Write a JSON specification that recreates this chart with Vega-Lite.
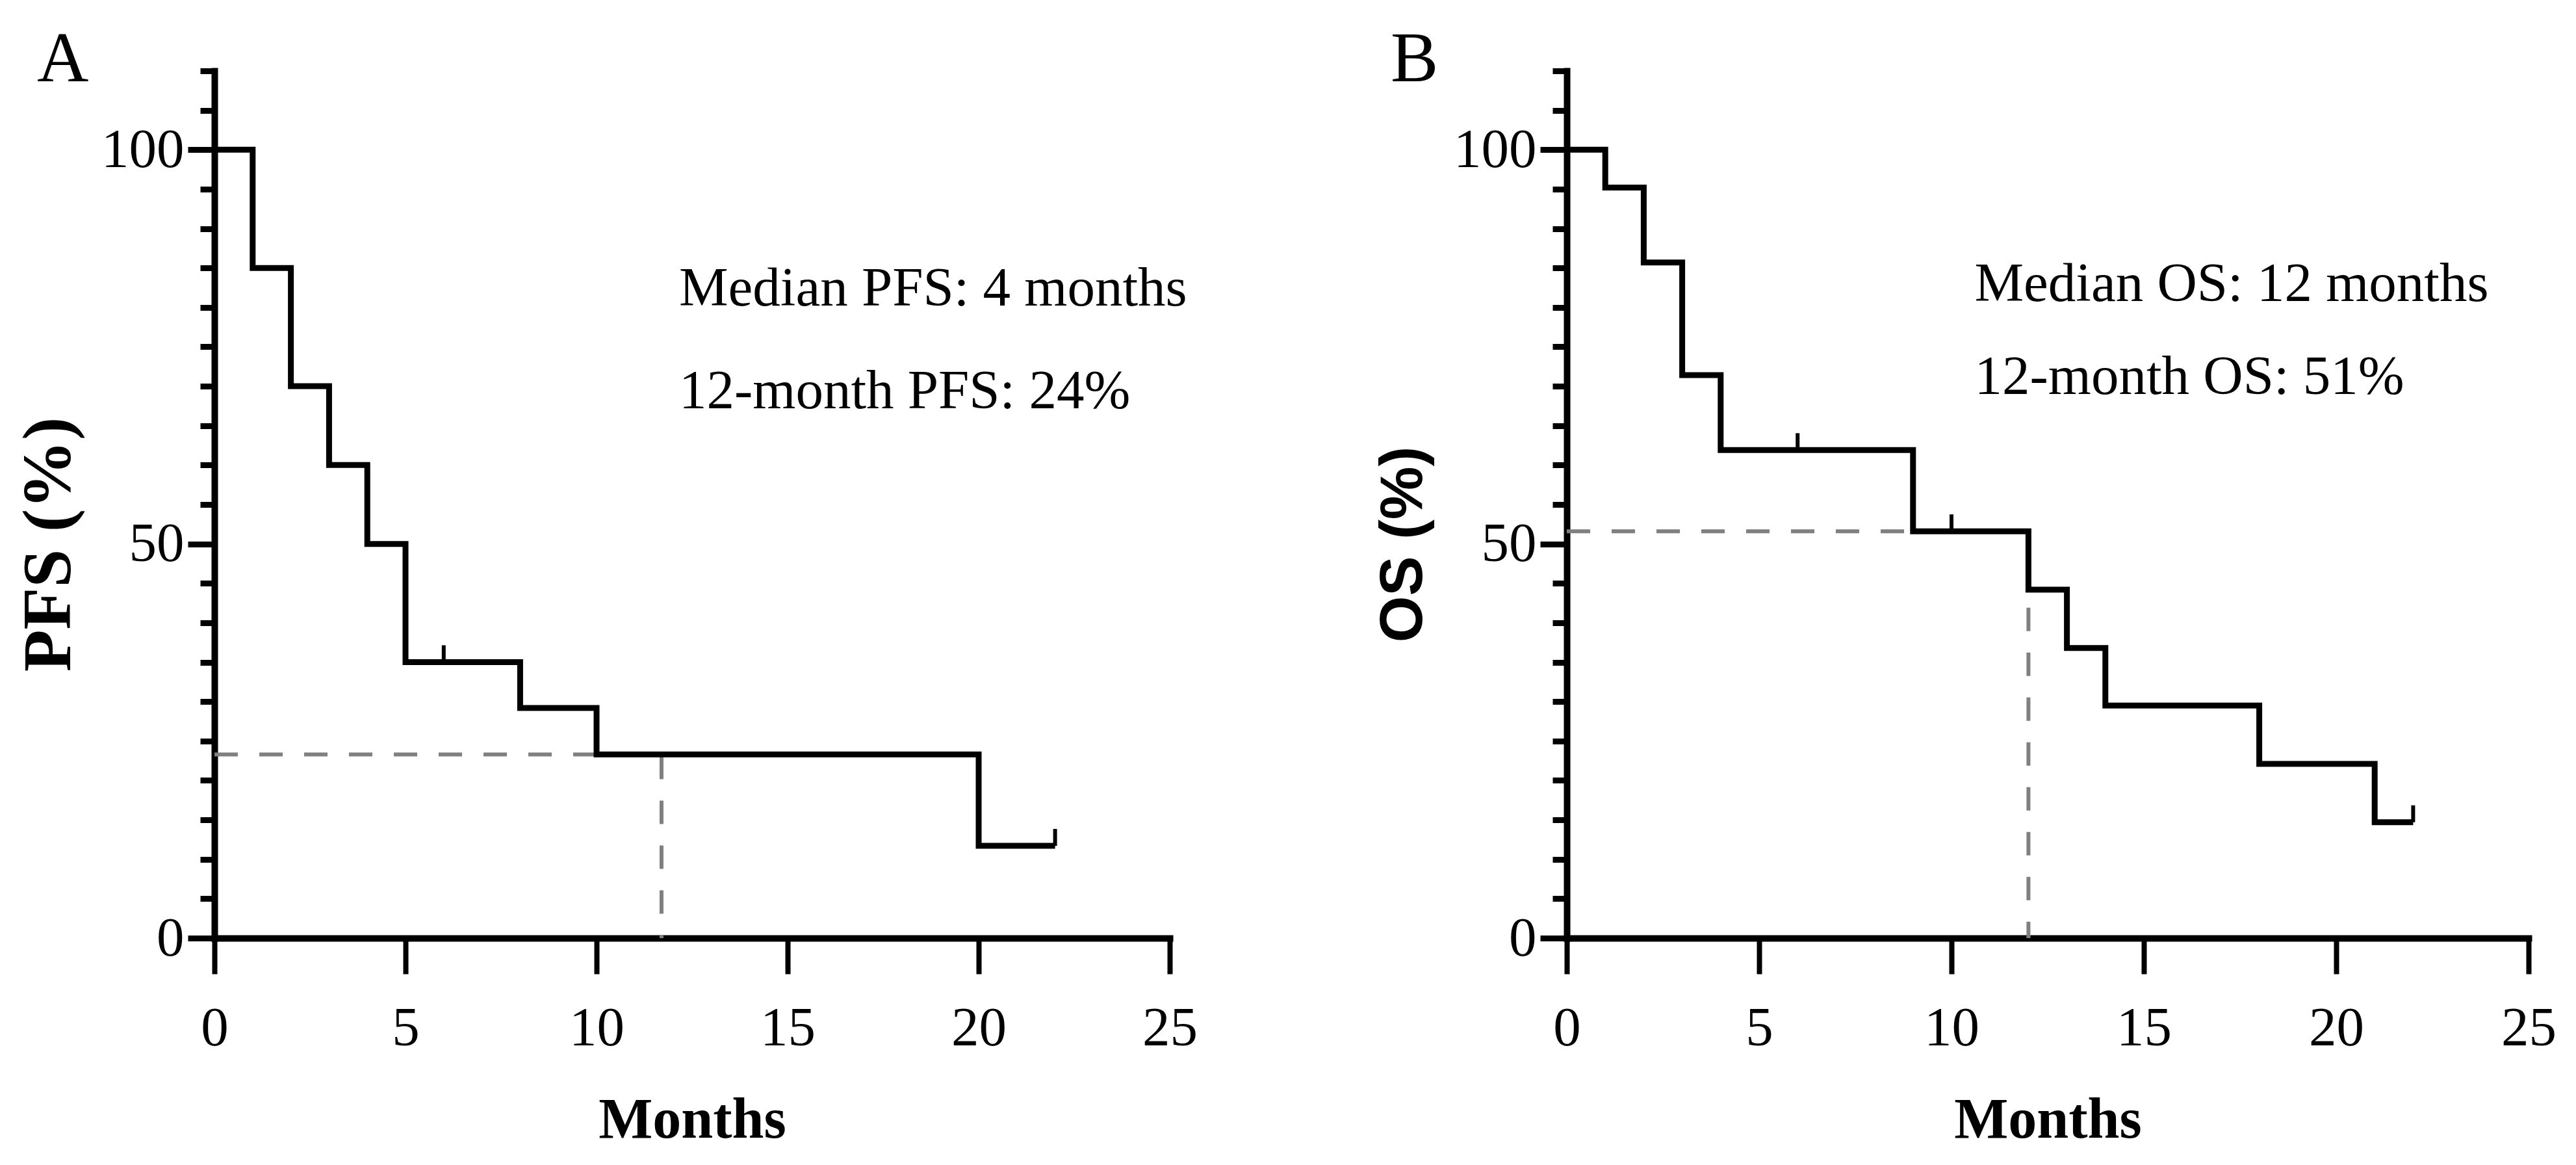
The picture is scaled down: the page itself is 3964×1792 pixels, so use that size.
{
  "$schema": "https://vega.github.io/schema/vega-lite/v6.json",
  "background": "white",
  "padding": {"left": 22, "top": 37, "right": 5, "bottom": 5},
  "spacing": 270,
  "config": {
    "view": {"stroke": null},
    "font": "Liberation Serif",
    "axis": {
      "grid": false,
      "domainColor": "black",
      "domainWidth": 10,
      "domainCap": "square",
      "tickColor": "black",
      "labelFont": "Liberation Serif",
      "labelFontSize": 85,
      "labelColor": "black",
      "titleFont": "Liberation Serif",
      "titleFontSize": 88,
      "titleFontWeight": "bold",
      "titleColor": "black"
    },
    "title": {
      "font": "Liberation Serif",
      "fontSize": 110,
      "fontWeight": "normal",
      "color": "black",
      "anchor": "start",
      "frame": "group",
      "baseline": "alphabetic",
      "offset": -81
    }
  },
  "hconcat": [
    {
      "width": 1470,
      "height": 1334,
      "title": {"text": "A", "dx": -273},
      "encoding": {
        "x": {
          "field": "month", "type": "quantitative",
          "scale": {"domain": [0, 25], "nice": false, "zero": false},
          "axis": {"title": "Months", "values": [0, 5, 10, 15, 20, 25], "tickSize": 55, "tickWidth": 8, "labelPadding": 42, "titlePadding": 55, "labelFlush": false, "labelOverlap": false}
        },
        "y": {
          "field": "surv", "type": "quantitative",
          "scale": {"domain": [0, 110], "nice": false},
          "axis": {
            "title": "PFS (%)",
            "titleFontSize": 106,
            "titleY": 728,
            "values": [0, 5, 10, 15, 20, 25, 30, 35, 40, 45, 50, 55, 60, 65, 70, 75, 80, 85, 90, 95, 100, 105, 110],
            "tickSize": {"condition": {"test": "datum.value % 50 === 0", "value": 41}, "value": 22},
            "tickWidth": 9,
            "labelExpr": "datum.value % 50 === 0 ? datum.label : ''",
            "labelPadding": 6,
            "titlePadding": 26,
            "labelOverlap": false
          }
        }
      },
      "layer": [
        {
          "data": {"values": [
            {"month": 0, "surv": 23.3, "seq": 1},
            {"month": 11.7, "surv": 23.3, "seq": 2},
            {"month": 11.7, "surv": 0, "seq": 3}
          ]},
          "mark": {"type": "line", "color": "#808080", "strokeWidth": 6, "strokeDash": [36, 33]},
          "encoding": {"order": {"field": "seq", "type": "quantitative"}}
        },
        {
          "data": {"values": [
            {"month": 0, "surv": 100},
            {"month": 1, "surv": 85},
            {"month": 2, "surv": 70},
            {"month": 3, "surv": 60},
            {"month": 4, "surv": 50},
            {"month": 5, "surv": 35},
            {"month": 8, "surv": 29.2},
            {"month": 10, "surv": 23.3},
            {"month": 20, "surv": 11.7},
            {"month": 22, "surv": 11.7}
          ]},
          "mark": {"type": "line", "interpolate": "step-after", "color": "black", "strokeWidth": 9, "strokeJoin": "miter"},
          "encoding": {}
        },
        {
          "data": {"values": [
            {"month": 6, "surv": 35},
            {"month": 22, "surv": 11.7}
          ]},
          "mark": {"type": "rule", "color": "black", "strokeWidth": 6, "y2Offset": -26},
          "encoding": {"y2": {"field": "surv"}}
        },
        {
          "data": {"values": [
            {"month": 12.16, "surv": 80.2, "label": "Median PFS: 4 months"},
            {"month": 12.16, "surv": 67.2, "label": "12-month PFS: 24%"}
          ]},
          "mark": {"type": "text", "align": "left", "baseline": "alphabetic", "fontSize": 85, "font": "Liberation Serif", "color": "black"},
          "encoding": {"text": {"field": "label", "type": "nominal"}}
        }
      ]
    },
    {
      "width": 1480,
      "height": 1334,
      "title": {"text": "B", "dx": -271},
      "encoding": {
        "x": {
          "field": "month", "type": "quantitative",
          "scale": {"domain": [0, 25], "nice": false, "zero": false},
          "axis": {"title": "Months", "values": [0, 5, 10, 15, 20, 25], "tickSize": 55, "tickWidth": 8, "labelPadding": 42, "titlePadding": 55, "labelFlush": false, "labelOverlap": false}
        },
        "y": {
          "field": "surv", "type": "quantitative",
          "scale": {"domain": [0, 110], "nice": false},
          "axis": {
            "title": "OS (%)",
            "titleFont": "Liberation Sans",
            "titleFontSize": 92,
            "titleY": 728,
            "values": [0, 5, 10, 15, 20, 25, 30, 35, 40, 45, 50, 55, 60, 65, 70, 75, 80, 85, 90, 95, 100, 105, 110],
            "tickSize": {"condition": {"test": "datum.value % 50 === 0", "value": 41}, "value": 22},
            "tickWidth": 9,
            "labelExpr": "datum.value % 50 === 0 ? datum.label : ''",
            "labelPadding": 6,
            "titlePadding": 30,
            "labelOverlap": false
          }
        }
      },
      "layer": [
        {
          "data": {"values": [
            {"month": 0, "surv": 51.6, "seq": 1},
            {"month": 12, "surv": 51.6, "seq": 2},
            {"month": 12, "surv": 0, "seq": 3}
          ]},
          "mark": {"type": "line", "color": "#808080", "strokeWidth": 6, "strokeDash": [36, 33]},
          "encoding": {"order": {"field": "seq", "type": "quantitative"}}
        },
        {
          "data": {"values": [
            {"month": 0, "surv": 100},
            {"month": 1, "surv": 95.2},
            {"month": 2, "surv": 85.7},
            {"month": 3, "surv": 71.4},
            {"month": 4, "surv": 61.9},
            {"month": 9, "surv": 51.6},
            {"month": 12, "surv": 44.2},
            {"month": 13, "surv": 36.8},
            {"month": 14, "surv": 29.5},
            {"month": 18, "surv": 22.1},
            {"month": 21, "surv": 14.7},
            {"month": 22, "surv": 14.7}
          ]},
          "mark": {"type": "line", "interpolate": "step-after", "color": "black", "strokeWidth": 9, "strokeJoin": "miter"},
          "encoding": {}
        },
        {
          "data": {"values": [
            {"month": 6, "surv": 61.9},
            {"month": 10, "surv": 51.6},
            {"month": 22, "surv": 14.7}
          ]},
          "mark": {"type": "rule", "color": "black", "strokeWidth": 6, "y2Offset": -26},
          "encoding": {"y2": {"field": "surv"}}
        },
        {
          "data": {"values": [
            {"month": 10.6, "surv": 80.8, "label": "Median OS: 12 months"},
            {"month": 10.6, "surv": 69.0, "label": "12-month OS: 51%"}
          ]},
          "mark": {"type": "text", "align": "left", "baseline": "alphabetic", "fontSize": 85, "font": "Liberation Serif", "color": "black"},
          "encoding": {"text": {"field": "label", "type": "nominal"}}
        }
      ]
    }
  ]
}
